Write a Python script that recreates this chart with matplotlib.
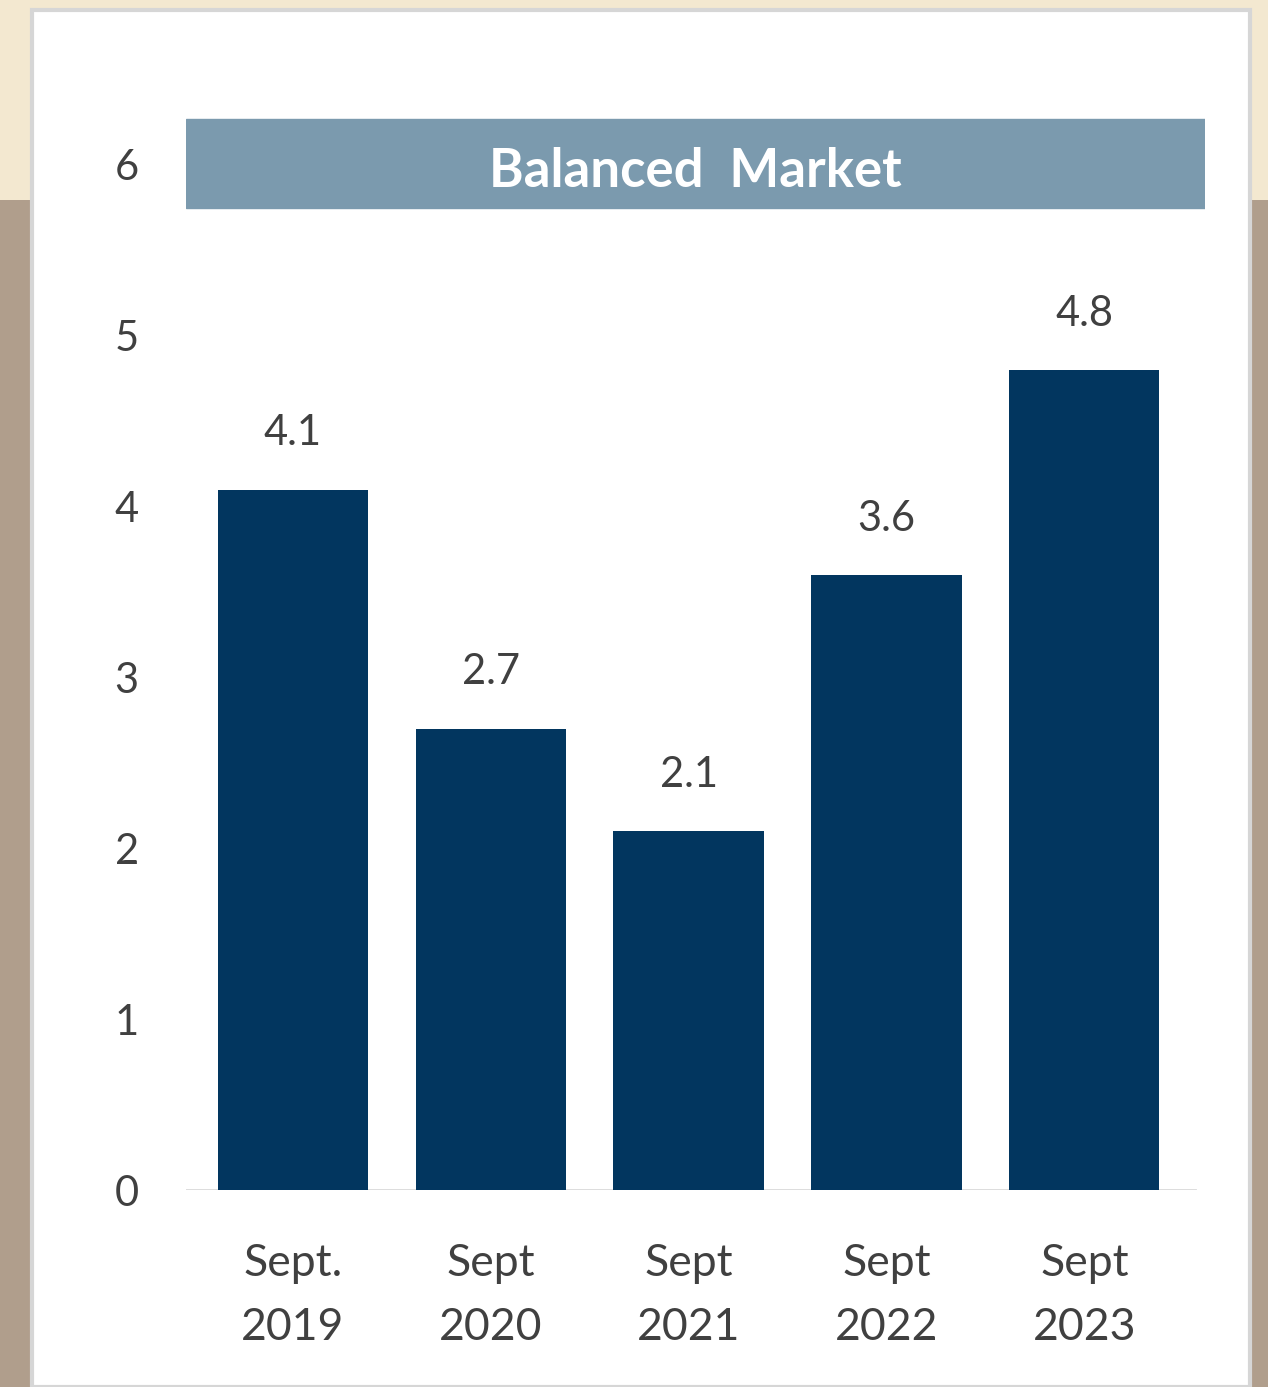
import matplotlib.pyplot as plt
from matplotlib.patches import Rectangle

# data
categories = ['Sept.\n2019', 'Sept\n2020', 'Sept\n2021', 'Sept\n2022', 'Sept\n2023']
values = [4.1, 2.7, 2.1, 3.6, 4.8]
band_label = 'Balanced  Market'
band_range = (5.75, 6.27)

plt.rcParams['font.family'] = ['Lato', 'DejaVu Sans']

W, H = 1268, 1387
fig = plt.figure(figsize=(W / 100, H / 100), dpi=100)
fig.patch.set_facecolor('#b09e8c')

# slide background: cream top strip, white panel
fig.add_artist(Rectangle((0, 1 - 200 / H), 1, 200 / H, transform=fig.transFigure,
                         facecolor='#f3e8d0', edgecolor='none', zorder=0))
fig.add_artist(Rectangle((32 / W, 0), (1250 - 32) / W, (H - 10) / H,
                         transform=fig.transFigure, facecolor='white',
                         edgecolor='#d6d6d6', linewidth=3, zorder=0))

# axes placement (pixels): x 186..1205, y0 at 1190, 6 at 165
ppu = (1190 - 165) / 6.0
ymax = 6.3
ax_bot = (H - 1190) / H
ax_h = ymax * ppu / H
ax = fig.add_axes([186 / W, ax_bot, (1205 - 186) / W, ax_h])
ax.set_facecolor('none')

x = list(range(len(values)))
ax.bar(x, values, width=0.76, color='#02365f', zorder=3)
for xi, v in zip(x, values):
    ax.text(xi, v + 0.26, '{:.1f}'.format(v), ha='center', va='baseline',
            fontsize=30, color='#404040')

ax.axhspan(band_range[0], band_range[1], color='#7b9aae', zorder=2)
ax.text(0.5, 5.87, band_label, transform=ax.get_yaxis_transform(),
        ha='center', va='baseline', fontsize=38, fontweight='bold', color='white',
        zorder=4)

ax.set_xlim(-0.54, 4.61)
ax.set_ylim(0, ymax)
ax.axhline(0, xmin=0, xmax=0.99, color='#d9d9d9', linewidth=2, zorder=2)

ax.set_yticks(range(0, 7))
ax.set_xticks(x)
ax.set_xticklabels(categories, linespacing=1.7)
ax.tick_params(axis='y', length=0, pad=34, labelsize=30, labelcolor='#404040')
ax.tick_params(axis='x', length=0, pad=38, labelsize=32, labelcolor='#404040')
for s in ax.spines.values():
    s.set_visible(False)

fig.savefig('out.png', dpi=100, facecolor=fig.get_facecolor())
